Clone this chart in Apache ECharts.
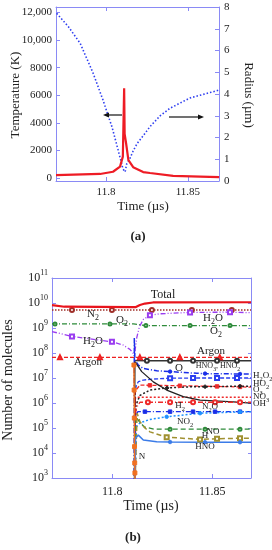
<!DOCTYPE html>
<html><head><meta charset="utf-8">
<script src="https://cdn.jsdelivr.net/npm/echarts@6/dist/echarts.min.js"></script>
<style>html,body{margin:0;padding:0;background:#fff}#c{width:272px;height:550px}</style>
</head><body><div id="c"></div>
<script>
// ---------- tick values ----------
const timeTicks = [11.8, 11.85];
const tempTicks = [0, 2000, 4000, 6000, 8000, 10000, 12000];
const molTicks = [1e3, 1e4, 1e5, 1e6, 1e7, 1e8, 1e9, 1e10, 1e11];

// ---------- chart (a) ----------
const temperature = [[11.7695,200],[11.7964,290],[11.8043,450],[11.8086,820],[11.8103,1550],[11.8111,6500],[11.8114,3200],[11.8123,2500],[11.8137,1300],[11.8166,780],[11.8227,430],[11.8269,360],[11.8410,150],[11.8575,100],[11.8691,60]];
const radius = [[11.7699,7.71],[11.7770,7.1],[11.7842,6.34],[11.7921,4.97],[11.7982,3.72],[11.8037,2.48],[11.8074,1.43],[11.8104,0.55],[11.8117,0.42],[11.8127,0.8],[11.8147,1.05],[11.8167,1.4],[11.8190,1.72],[11.8229,2.1],[11.8269,2.5],[11.8331,3.0],[11.8392,3.35],[11.8514,3.82],[11.8691,4.18]];

// ---------- chart (b) ----------
const total = [[11.7698,8.2e9],[11.7760,7.1e9],[11.8103,6.8e9],[11.8118,6.9e9],[11.8138,8.3e9],[11.8163,9.5e9],[11.8203,1.05e10],[11.8694,1.07e10]];
const n2 = [[11.7698,5.2e9],[11.7798,5.2e9],[11.7998,5.2e9],[11.8198,5.2e9],[11.8398,5.2e9],[11.8598,5.2e9],[11.8694,5.2e9]];
const n2Marks = [11.7798,11.7998,11.8198,11.8398,11.8598];
const o2 = [[11.7698,1.45e9],[11.7713,1.45e9],[11.7988,1.45e9],[11.8106,1.45e9],[11.8111,1.25e9],[11.8168,1.25e9],[11.8389,1.25e9],[11.8589,1.25e9],[11.8694,1.25e9]];
const o2Marks = [11.7713,11.7988,11.8168,11.8389,11.8589];
const h2o = [[11.7698,7.2e8],[11.7798,4.6e8],[11.7898,3.6e8],[11.7998,2.8e8],[11.8053,2.1e8],[11.8088,1.4e8],[11.8111,8.5e7],[11.8122,4e8],[11.8135,1.1e9],[11.8155,2.2e9],[11.8188,3.2e9],[11.8238,3.7e9],[11.8389,4.2e9],[11.8589,4.3e9],[11.8694,4.1e9]];
const h2oMarks = [11.7798,11.7998,11.8188,11.8389,11.8589];
const argon = [[11.7698,6.7e7],[11.7738,6.7e7],[11.7938,6.7e7],[11.8138,6.7e7],[11.8338,6.7e7],[11.8538,6.7e7],[11.8694,6.7e7]];
const argonMarks = [11.7738,11.7938,11.8138,11.8338,11.8538];
const hno3 = [[11.8111,5.0e7],[11.8173,4.9e7],[11.8289,4.9e7],[11.8404,4.9e7],[11.8524,4.9e7],[11.8624,4.9e7],[11.8694,4.9e7]];
const hno3Marks = [11.8173,11.8289,11.8404,11.8524,11.8624];
const oAtom = [[11.8109,1e2],[11.8110,4e8],[11.8113,5.2e7],[11.8130,3.3e7],[11.8155,2.4e7],[11.8222,1.95e7],[11.8289,1.8e7],[11.8422,1.55e7],[11.8464,1.5e7],[11.8639,1.45e7],[11.8694,1.45e7]];
const oMarks = [11.8289,11.8464,11.8639];
const h2o2 = [[11.8111,1e2],[11.8115,3e6],[11.8120,5e6],[11.8130,7.1e6],[11.8155,8.3e6],[11.8205,9.1e6],[11.8289,9.8e6],[11.8404,1e7],[11.8524,1e7],[11.8624,1e7],[11.8694,1e7]];
const h2o2Marks = [11.8289,11.8404,11.8524,11.8624];
const ho2 = [[11.8111,1e2],[11.8115,3e6],[11.8138,5.2e6],[11.8188,5.1e6],[11.8338,4.9e6],[11.8524,4.6e6],[11.8639,4.4e6],[11.8694,4.3e6]];
const ho2Marks = [11.8188,11.8338,11.8524,11.8639];
const o3 = [[11.8111,1e2],[11.8118,8e5],[11.8128,1.3e6],[11.8138,2e6],[11.8188,3.3e6],[11.8274,4e6],[11.8374,4.4e6],[11.8464,4.5e6],[11.8639,4.7e6],[11.8694,4.7e6]];
const o3Marks = [11.8274,11.8464,11.8639];
const no3 = [[11.8111,1e2],[11.8116,1.7e6],[11.8694,1.7e6]];
const oh = [[11.8110,1e2],[11.8113,4.5e7],[11.8147,1.8e7],[11.8205,7e6],[11.8272,3.3e6],[11.8355,1.8e6],[11.8439,1.3e6],[11.8605,1.1e6],[11.8694,9.8e5]];
const h2 = [[11.8111,1e2],[11.8118,6e5],[11.8138,1.07e6],[11.8178,1.07e6],[11.8289,1.07e6],[11.8404,1.07e6],[11.8514,1.07e6],[11.8639,1.07e6],[11.8694,1.07e6]];
const h2Marks = [11.8178,11.8289,11.8404,11.8514,11.8639];
const n2o = [[11.8111,1e2],[11.8115,3e5],[11.8128,4.5e5],[11.8163,4.5e5],[11.8289,4.5e5],[11.8404,4.5e5],[11.8514,4.5e5],[11.8639,4.5e5],[11.8694,4.5e5]];
const n2oMarks = [11.8163,11.8289,11.8404,11.8514,11.8639];
const no2 = [[11.8111,1e2],[11.8120,1.1e5],[11.8138,1.6e5],[11.8188,2.2e5],[11.8272,2.8e5],[11.8439,3.9e5],[11.8639,4.4e5],[11.8694,4.5e5]];
const no2Marks = [11.8272,11.8439,11.8639];
const no = [[11.8111,1e2],[11.8118,2.8e5],[11.8135,1.8e5],[11.8160,1.1e5],[11.8210,9e4],[11.8289,9e4],[11.8464,9e4],[11.8639,9e4],[11.8694,9e4]];
const noMarks = [11.8289,11.8464,11.8639];
const hAtom = [[11.8111,1e2],[11.8124,3.9e5],[11.8138,1.8e5],[11.8163,1.0e5],[11.8188,7e4],[11.8272,4.3e4],[11.8439,3.5e4],[11.8524,3.7e4],[11.8639,3.9e4],[11.8694,3.9e4]];
const hMarks = [11.8272,11.8439,11.8524,11.8639];
const hno = [[11.8113,1e2],[11.8116,4e4],[11.8130,5.2e4],[11.8155,3.3e4],[11.8222,2.8e4],[11.8289,2.75e4],[11.8464,2.7e4],[11.8639,2.7e4],[11.8694,2.7e4]];
const hnoMarks = [11.8289,11.8464,11.8639];
const nAtom = [[11.8108,3.3e7],[11.8109,3.3e6],[11.8110,2.5e5],[11.8111,1.8e4],[11.8112,4e3],[11.8113,1.6e3],[11.8114,1e2]];
const nMarks = [11.8108,11.8109,11.8110,11.8111,11.8112,11.8113];

// ---------- build ----------
const FF = 'Liberation Serif';
const TXT = '#222';
const FRAME = '#8a8af5';
const chart = echarts.init(document.getElementById('c'), null, {renderer: 'canvas'});

function xAx(grid, min, max, pos, showLabel) {
  return {
    type: 'value', gridIndex: grid, min: min, max: max, position: pos,
    axisLine: {show: true, onZero: false, lineStyle: {color: FRAME, width: 1}},
    axisTick: {show: true, inside: true, length: 4, customValues: timeTicks, lineStyle: {color: FRAME}},
    axisLabel: {show: showLabel, customValues: timeTicks, formatter: v => String(v), fontFamily: FF, fontSize: grid === 0 ? 11 : 12, color: TXT, margin: grid === 0 ? 6 : 8},
    splitLine: {show: false}
  };
}

function line(data, marks, xi, yi, color, type, width, symbol, size, z) {
  const ms = marks || [];
  return {
    type: 'line', xAxisIndex: xi, yAxisIndex: yi, z: z || 2,
    data: data.map(p => ms.indexOf(p[0]) >= 0 ? {value: p} : {value: p, symbol: 'none'}),
    symbol: symbol || 'none', symbolSize: size || 3.5, showSymbol: !!symbol,
    showAllSymbol: true,
    lineStyle: {color: color, type: type, width: width},
    itemStyle: {color: color, borderColor: color, borderWidth: 0.9},
    silent: true, animation: false
  };
}

const supRich = size => ({
  s: {fontSize: size * 0.72, lineHeight: size * 0.8, verticalAlign: 'bottom', fontFamily: FF, fill: TXT},
  p: {fontSize: size * 0.72, lineHeight: size * 0.8, verticalAlign: 'top', fontFamily: FF, fill: TXT}
});

function txt(t, x, y, size, opts) {
  opts = opts || {};
  return {
    type: 'text', x: x, y: y, rotation: opts.rot || 0, z: 100,
    style: {
      text: t, fontFamily: FF, fontSize: size, fontWeight: opts.bold ? 'bold' : 'normal',
      fill: TXT, align: opts.align || 'center', verticalAlign: 'middle',
      lineHeight: size * 1.5, rich: supRich(size)
    }
  };
}

const DASHDOT = [5, 2, 1, 2];
const DASHDOTDOT = [5, 2, 1, 2, 1, 2];
const DASH = [4, 2];
const DOT = [1.5, 1.5];

const option = {
  animation: false,
  backgroundColor: '#fff',
  grid: [
    {left: 56, top: 7, width: 163, height: 174, show: false},
    {left: 52, top: 278, width: 199, height: 200, show: false}
  ],
  xAxis: [
    xAx(0, 11.7695, 11.869, 'bottom', true),
    xAx(0, 11.7695, 11.869, 'top', false),
    xAx(1, 11.7698, 11.8694, 'bottom', true),
    xAx(1, 11.7698, 11.8694, 'top', false)
  ],
  yAxis: [
    {type: 'value', gridIndex: 0, min: -220, max: 12400, position: 'left',
     axisLine: {show: true, onZero: false, lineStyle: {color: FRAME}},
     axisTick: {show: true, inside: true, length: 4, customValues: tempTicks, lineStyle: {color: FRAME}},
     axisLabel: {customValues: tempTicks, fontFamily: FF, fontSize: 11, color: TXT, margin: 4,
       formatter: v => v >= 10000 ? (Math.floor(v / 1000) + ',000') : String(v)},
     splitLine: {show: false}},
    {type: 'value', gridIndex: 0, min: 0, max: 8, interval: 1, position: 'right',
     axisLine: {show: true, onZero: false, lineStyle: {color: FRAME}},
     axisTick: {show: true, inside: true, length: 4, lineStyle: {color: FRAME}},
     axisLabel: {fontFamily: FF, fontSize: 11, color: TXT, margin: 5},
     splitLine: {show: false}},
    {type: 'log', logBase: 10, gridIndex: 1, min: 1e3, max: 1e11, position: 'left',
     axisLine: {show: true, onZero: false, lineStyle: {color: FRAME}},
     axisTick: {show: true, inside: true, length: 4, customValues: molTicks, lineStyle: {color: FRAME}},
     axisLabel: {customValues: molTicks, color: TXT, margin: 4,
       formatter: v => '{b|10}{p|' + Math.round(Math.log10(v)) + '}',
       rich: {b: {fontFamily: FF, fontSize: 12, lineHeight: 18, color: TXT},
              p: {fontFamily: FF, fontSize: 8, lineHeight: 9, verticalAlign: 'top', color: TXT}}},
     splitLine: {show: false}},
    {type: 'log', logBase: 10, gridIndex: 1, min: 1e3, max: 1e11, position: 'right',
     axisLine: {show: true, onZero: false, lineStyle: {color: FRAME}},
     axisTick: {show: true, inside: true, length: 3, customValues: molTicks, lineStyle: {color: FRAME}},
     axisLabel: {show: false},
     splitLine: {show: false}}
  ],
  series: [
    line(radius, null, 0, 1, '#2f3ff0', [1.5, 2], 1.6),
    line(temperature, null, 0, 0, '#ee1c25', 'solid', 2.2, null, 4, 3),

    line(n2, n2Marks, 2, 2, '#a0302a', DOT, 1.5, 'emptyCircle', 4),
    line(o2, o2Marks, 2, 2, '#2e8b3a', DASHDOT, 1.2, 'emptyCircle', 3),
    line(h2o, h2oMarks, 2, 2, '#9a3cf0', DASHDOTDOT, 1.3, 'emptyRect', 4),
    line(argon, argonMarks, 2, 2, '#ee2020', DASH, 1.2, 'emptyTriangle', 4),
    line(hno3, hno3Marks, 2, 2, '#333333', 'solid', 1.3, 'emptyCircle', 4),
    line(oAtom, oMarks, 2, 2, '#1a2ee8', DASHDOT, 1.5, 'circle', 3.5),
    line(h2o2, h2o2Marks, 2, 2, '#2a3ef0', DASH, 1.3, 'emptyRect', 4),
    line(ho2, ho2Marks, 2, 2, '#ee2a2a', DASH, 1.3, 'rect', 3.5),
    line(o3, o3Marks, 2, 2, '#222222', [2, 2], 1.5, 'diamond', 4),
    line(no3, null, 2, 2, '#ee2a2a', [2, 2], 1.3),
    line(oh, null, 2, 2, '#222222', 'solid', 1.3),
    line(h2, h2Marks, 2, 2, '#ee2a2a', DASHDOT, 1.3, 'emptyCircle', 4),
    line(n2o, n2oMarks, 2, 2, '#1a2ee8', DASHDOT, 1.3, 'rect', 3.5),
    line(no2, no2Marks, 2, 2, '#1e90ff', [2, 2], 1.5, 'circle', 3.5),
    line(no, noMarks, 2, 2, '#2e8b3a', [5, 3], 1.3, 'emptyCircle', 3),
    line(hAtom, hMarks, 2, 2, '#a09030', [5, 3], 1.5, 'emptyRect', 4),
    line(hno, hnoMarks, 2, 2, '#3a7be8', 'solid', 1.5, 'circle', 3.5),
    line(nAtom, nMarks, 2, 2, '#f07020', 'solid', 1.5, 'rect', 4),
    line(total, null, 2, 2, '#e8141c', 'solid', 2.2, null, 4, 4)
  ],
  graphic: [
    txt('Temperature (K)', 16, 95, 13, {rot: Math.PI / 2}),
    txt('Radius (\u00b5m)', 248, 95, 13, {rot: -Math.PI / 2}),
    txt('Time (\u00b5s)', 143, 207, 13),
    txt('(a)', 138, 237, 13, {bold: true}),
    {type: 'line', shape: {x1: 122, y1: 115, x2: 107, y2: 115}, style: {stroke: '#111', lineWidth: 1.2}, z: 100},
    {type: 'polygon', shape: {points: [[103, 115], [109, 112.5], [109, 117.5]]}, style: {fill: '#111'}, z: 100},
    {type: 'line', shape: {x1: 169, y1: 117, x2: 200, y2: 117}, style: {stroke: '#111', lineWidth: 1.2}, z: 100},
    {type: 'polygon', shape: {points: [[204, 117], [198, 114.5], [198, 119.5]]}, style: {fill: '#111'}, z: 100},

    txt('Number of molecules', 8, 380, 14, {rot: Math.PI / 2}),
    txt('Time (\u00b5s)', 151, 506, 14),
    txt('(b)', 133, 538, 13, {bold: true}),

    txt('Total', 163, 295, 12),
    txt('N{s|2}', 93, 314, 11),
    txt('O{s|2}', 122, 320, 11),
    txt('H{s|2}O', 213, 318, 11),
    txt('O{s|2}', 216, 331, 11),
    txt('H{s|2}O', 93, 341, 11),
    txt('Argon', 211, 351, 11),
    txt('Argon', 88, 362, 11),
    txt('HNO{s|3}, HNO{s|2}', 218, 366, 8),
    txt('O', 179, 368, 11),
    txt('H{s|2}', 180, 406, 9),
    txt('N{s|2}O', 210, 407, 9),
    txt('NO{s|2}', 185, 422, 9),
    txt('NO', 213, 432, 9),
    txt('H', 205, 436, 9),
    txt('HNO', 205, 447, 9),
    txt('N', 142, 457, 9),
    txt('H{s|2}O{s|2}', 253, 376, 9, {align: 'left'}),
    txt('HO{s|2}', 253, 384, 9, {align: 'left'}),
    txt('O{s|3}', 253, 390, 9, {align: 'left'}),
    txt('NO{s|3}', 253, 397, 9, {align: 'left'}),
    txt('OH', 253, 404, 9, {align: 'left'})
  ]
};
chart.setOption(option);
</script></body></html>
